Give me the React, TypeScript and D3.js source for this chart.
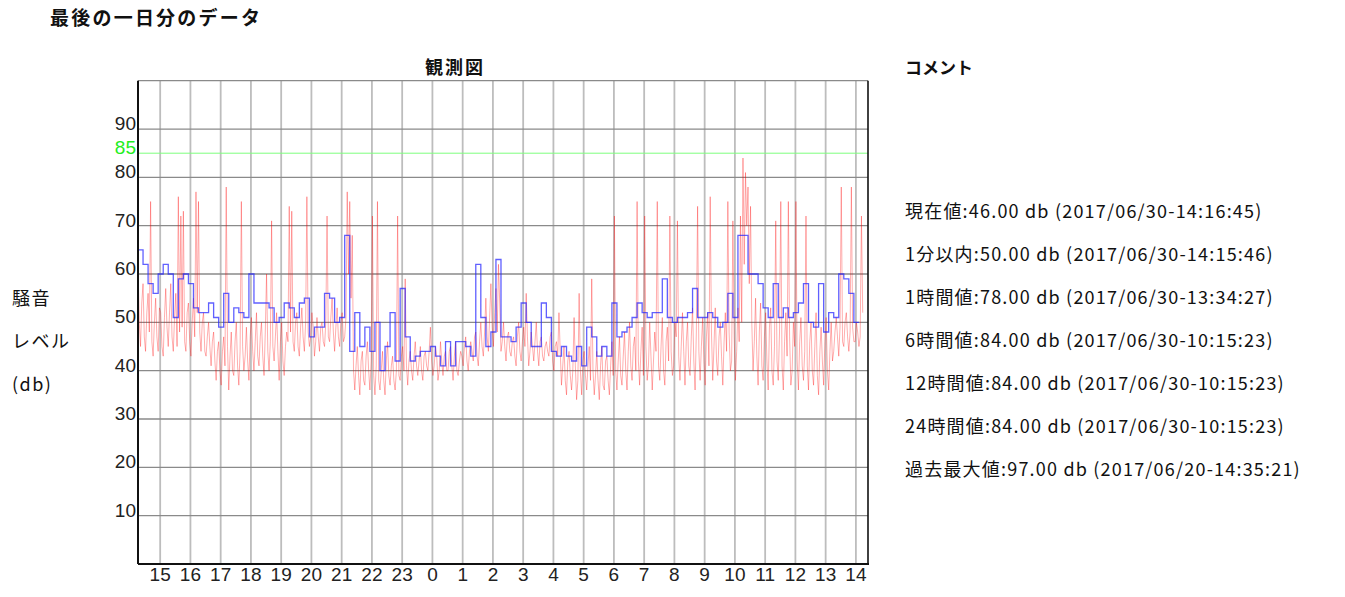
import React from "react";
import * as d3 from "d3";

// ---- data ----
const hourTicks = [15, 16, 17, 18, 19, 20, 21, 22, 23, 24, 25, 26, 27, 28, 29, 30, 31, 32, 33, 34, 35, 36, 37, 38];
const hourLabels = ["15", "16", "17", "18", "19", "20", "21", "22", "23", "0", "1", "2", "3", "4", "5", "6", "7", "8", "9", "10", "11", "12", "13", "14"];
const yTicks = [10, 20, 30, 40, 50, 60, 70, 80, 90];
const yGrid = [10, 20, 30, 40, 50, 60, 70, 80, 90, 100];
const limitValue = 85;
const startHour = 14 + 16 / 60; // 14:16 of previous day
const endHour = 38.4;

// 10-minute averages (blue step line)
const avg10min = [
  65, 62, 58, 56, 60, 62, 60, 51, 59, 60, 58, 53, 52, 52, 54, 51, 49, 56, 50, 53, 52, 51, 60, 54, 54, 54, 53, 50, 51, 54, 53, 51, 54, 55, 47, 49,
  49, 56, 55, 50, 51, 68, 44, 52, 45, 49, 44, 50, 40, 45, 52, 42, 57, 47, 42, 43, 44, 44, 45, 43, 41, 46, 41, 46, 46, 45, 43, 62, 51, 45, 48, 63,
  47, 47, 46, 49, 54, 50, 45, 45, 54, 51, 44, 43, 45, 43, 42, 45, 41, 49, 47, 43, 45, 43, 54, 47, 48, 49, 51, 54, 52, 51, 52, 52, 59, 51, 50, 51,
  51, 52, 57, 51, 51, 52, 51, 49, 50, 56, 51, 68, 68, 60, 60, 58, 53, 51, 58, 51, 53, 51, 52, 54, 58, 50, 49, 58, 48, 52, 51, 60, 59, 56, 50,
];

// samples at :00 of each 5-minute slot (red line)
const samplesA = [
  62, 45, 58, 44, 56, 75, 43, 55, 44, 52, 43, 57,
  45, 58, 44, 56, 76, 72, 73, 44, 54, 43, 55, 77,
  75, 44, 52, 43, 50, 41, 48, 38, 46, 37, 47, 78,
  36, 48, 39, 50, 37, 75, 40, 49, 38, 51, 40, 52,
  41, 50, 39, 60, 40, 71, 42, 52, 38, 50, 39, 48,
  74, 73, 44, 52, 43, 53, 44, 76, 45, 52, 43, 51,
  44, 50, 45, 72, 46, 55, 44, 53, 45, 52, 47, 77,
  75, 68, 36, 45, 35, 44, 37, 46, 36, 72, 35, 75,
  36, 44, 35, 46, 37, 43, 36, 72, 38, 45, 59, 37,
  44, 38, 46, 39, 45, 38, 44, 40, 49, 39, 45, 38,
  46, 39, 44, 40, 45, 38, 46, 39, 44, 41, 47, 40,
  46, 42, 48, 41, 50, 43, 55, 44, 58, 45, 57, 62,
  44, 50, 42, 48, 43, 47, 41, 50, 42, 49, 56, 41,
  48, 42, 50, 41, 47, 42, 46, 43, 48, 40, 46, 52,
  37, 45, 35, 44, 36, 51, 34, 56, 35, 44, 36, 45,
  59, 35, 44, 34, 45, 36, 43, 35, 46, 72, 36, 47,
  37, 48, 36, 50, 38, 47, 75, 37, 49, 72, 38, 50,
  36, 48, 75, 38, 51, 37, 49, 72, 39, 50, 71, 38,
  52, 37, 50, 39, 53, 36, 74, 38, 51, 37, 52, 76,
  38, 53, 39, 50, 37, 52, 75, 40, 71, 38, 53, 72,
  84, 81, 78, 74, 40, 55, 37, 54, 38, 52, 36, 53,
  37, 71, 38, 75, 36, 52, 75, 37, 50, 75, 36, 51,
  38, 72, 36, 50, 37, 52, 35, 49, 37, 51, 36, 50,
  44, 51, 43, 78, 45, 52, 44, 78, 46, 50, 45, 72,
];

// samples at :02.5 of each 5-minute slot (red line)
const samplesB = [
  50, 54, 47, 52, 48, 46, 50, 47, 53, 45, 51, 49,
  52, 47, 51, 45, 48, 49, 46, 52, 46, 50, 47, 52,
  48, 50, 44, 47, 45, 46, 42, 44, 40, 44, 41, 45,
  43, 40, 46, 41, 44, 45, 43, 42, 47, 44, 46, 43,
  47, 43, 48, 44, 46, 45, 47, 44, 46, 42, 45, 46,
  48, 46, 50, 45, 49, 47, 50, 48, 47, 49, 46, 47,
  49, 46, 50, 47, 51, 48, 49, 47, 50, 46, 51, 60,
  55, 40, 41, 39, 42, 38, 43, 40, 42, 39, 41, 38,
  40, 38, 42, 39, 41, 38, 40, 39, 43, 40, 41, 42,
  40, 43, 41, 42, 40, 43, 41, 44, 42, 41, 43, 40,
  42, 43, 40, 44, 41, 43, 40, 42, 43, 45, 42, 44,
  44, 47, 43, 46, 45, 48, 47, 51, 49, 52, 48, 54,
  46, 45, 47, 44, 46, 43, 47, 44, 46, 45, 47, 44,
  45, 46, 44, 46, 43, 45, 44, 47, 42, 45, 43, 44,
  41, 38, 42, 39, 40, 41, 38, 40, 42, 39, 41, 38,
  40, 39, 38, 41, 37, 42, 38, 41, 39, 40, 42, 39,
  43, 40, 44, 41, 45, 40, 42, 44, 39, 45, 41, 43,
  42, 44, 41, 45, 40, 46, 42, 44, 41, 47, 43, 45,
  44, 46, 41, 47, 42, 48, 44, 45, 42, 47, 41, 48,
  45, 42, 47, 43, 46, 44, 48, 42, 47, 44, 46, 50,
  62, 70, 58, 50, 46, 43, 48, 41, 47, 42, 49, 40,
  45, 42, 48, 41, 46, 43, 47, 40, 45, 42, 46, 41,
  44, 41, 46, 40, 45, 39, 44, 42, 46, 40, 44, 42,
  48, 47, 49, 46, 50, 47, 48, 49, 46, 48, 47, 52,
];

const comments = [
  "現在値:46.00 db (2017/06/30-14:16:45)",
  "1分以内:50.00 db (2017/06/30-14:15:46)",
  "1時間値:78.00 db (2017/06/30-13:34:27)",
  "6時間値:84.00 db (2017/06/30-10:15:23)",
  "12時間値:84.00 db (2017/06/30-10:15:23)",
  "24時間値:84.00 db (2017/06/30-10:15:23)",
  "過去最大値:97.00 db (2017/06/20-14:35:21)",
];
const sideLabels = ["騒音", "レベル", "(db)"];

const W = 1345;
const H = 597;
const plot = { left: 138, right: 868, top: 80.7, bottom: 564 };

const jp = "'Noto Sans CJK JP', sans-serif";
const sans = "'Liberation Sans', Arial, sans-serif";

export default function App() {
  const x = d3.scaleLinear().domain([startHour, endHour]).range([plot.left, plot.right]);
  const y = d3.scaleLinear().domain([0, 100]).range([plot.bottom, plot.top]);

  const bluePts: [number, number][] = avg10min.map((v, k) => [startHour + k / 6, v]);
  bluePts.push([startHour + avg10min.length / 6, avg10min[avg10min.length - 1]]);
  const blueLine = d3
    .line<[number, number]>()
    .x((d) => x(d[0]))
    .y((d) => y(d[1]))
    .curve(d3.curveStepAfter)(bluePts);

  const redPts: [number, number][] = [];
  samplesA.forEach((v, i) => {
    redPts.push([startHour + i / 12, v]);
    redPts.push([startHour + i / 12 + 1 / 24, samplesB[i]]);
  });
  const redLine = d3
    .line<[number, number]>()
    .x((d) => x(d[0]))
    .y((d) => y(d[1]))(redPts);

  return (
    <svg width={W} height={H} style={{ position: "absolute", left: 0, top: 0, background: "#fff" }}>
      <text x={50} y={25} fontFamily={jp} fontWeight="bold" fontSize={19} textLength={210} lengthAdjust="spacing" fill="#111">
        最後の一日分のデータ
      </text>
      <text x={455} y={74} textAnchor="middle" fontFamily={jp} fontWeight="bold" fontSize={18} letterSpacing={2} fill="#111">
        観測図
      </text>
      <text x={905} y={74} fontFamily={jp} fontWeight="bold" fontSize={17} fill="#111">
        コメント
      </text>

      {sideLabels.map((t, i) => (
        <text key={t} x={12} y={305 + i * 43} fontFamily={jp} fontSize={18} letterSpacing={1.5} fill="#111">
          {t}
        </text>
      ))}

      {comments.map((t, i) => (
        <text key={i} x={905} y={218 + i * 43} fontFamily={jp} fontSize={18} letterSpacing={1.2} fill="#111">
          {t}
        </text>
      ))}

      {/* vertical hour grid */}
      {hourTicks.map((h) => (
        <line key={"v" + h} x1={x(h)} x2={x(h)} y1={plot.top} y2={plot.bottom} stroke="#bdbdbd" strokeWidth={1.8} />
      ))}
      {/* horizontal grid */}
      {yGrid.map((v) => (
        <line key={"h" + v} x1={plot.left} x2={plot.right} y1={y(v)} y2={y(v)} stroke="#8a8a8a" strokeWidth={1.3} />
      ))}
      <line x1={plot.left} x2={plot.right} y1={y(limitValue)} y2={y(limitValue)} stroke="#7dff7d" strokeWidth={1} />

      {/* data */}
      <path d={redLine || ""} fill="none" stroke="#ff0000" strokeOpacity={0.4} strokeWidth={0.8} />
      <path d={blueLine || ""} fill="none" stroke="#2222ff" strokeOpacity={0.72} strokeWidth={1.3} />

      {/* frame */}
      <line x1={plot.left} x2={plot.left} y1={plot.top} y2={plot.bottom} stroke="#111" strokeWidth={2} />
      <line x1={plot.left} x2={plot.right + 1} y1={plot.bottom} y2={plot.bottom} stroke="#111" strokeWidth={2} />
      <line x1={plot.right} x2={plot.right} y1={plot.top} y2={plot.bottom} stroke="#111" strokeWidth={1.6} />

      {/* y tick labels */}
      {yTicks.map((v) => (
        <text key={"yt" + v} x={136} y={y(v) + 1} textAnchor="end" fontFamily={sans} fontSize={19} fill="#222">
          {v}
        </text>
      ))}
      <text x={136} y={y(limitValue) + 1} textAnchor="end" fontFamily={sans} fontSize={19} fill="#22ee22">
        {limitValue}
      </text>

      {/* x tick labels */}
      {hourTicks.map((h, i) => (
        <text key={"xt" + h} x={x(h)} y={581} textAnchor="middle" fontFamily={sans} fontSize={19} fill="#222">
          {hourLabels[i]}
        </text>
      ))}
    </svg>
  );
}
